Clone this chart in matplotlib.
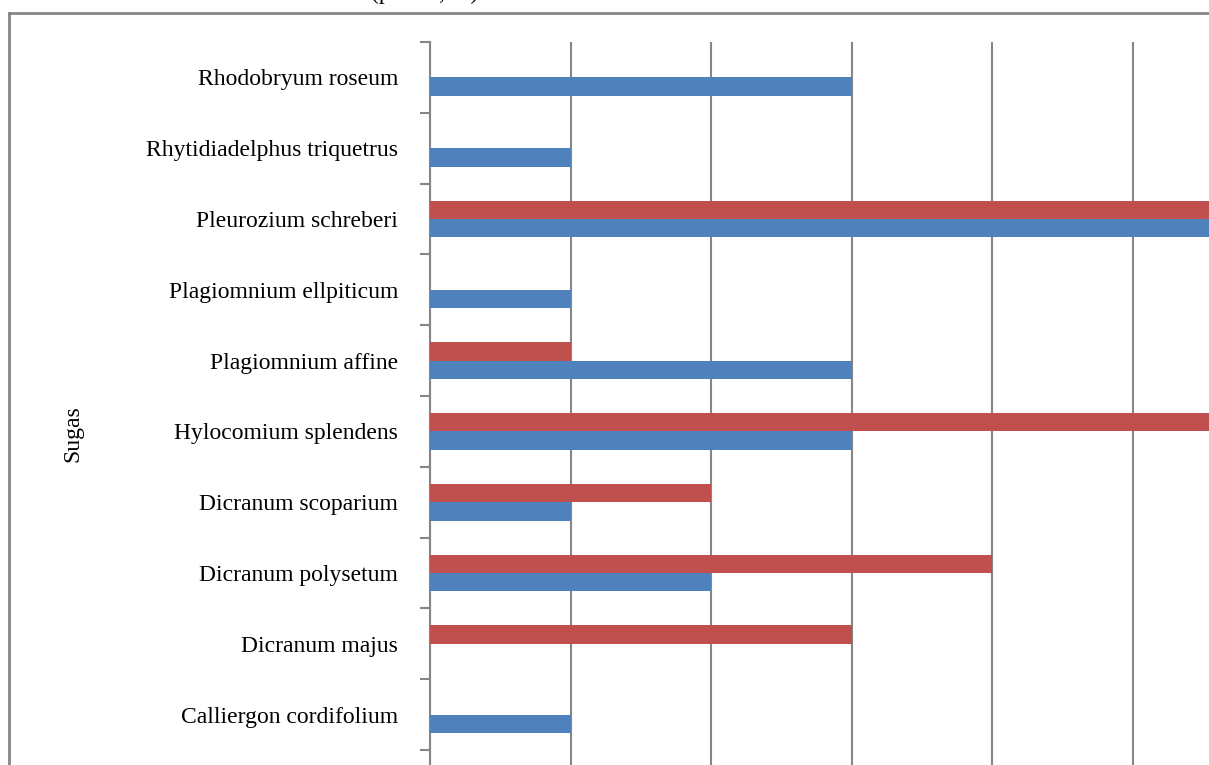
import numpy as np
import matplotlib
matplotlib.use('Agg')
import matplotlib.pyplot as plt
from matplotlib.lines import Line2D

species = ['Calliergon cordifolium', 'Dicranum majus', 'Dicranum polysetum',
           'Dicranum scoparium', 'Hylocomium splendens', 'Plagiomnium affine',
           'Plagiomnium ellpiticum', 'Pleurozium schreberi',
           'Rhytidiadelphus triquetrus', 'Rhodobryum roseum']
blue_vals = [1, 0, 2, 1, 3, 3, 1, 6, 1, 3]
red_vals = [0, 3, 4, 2, 6, 1, 0, 6, 0, 0]

W, H = 1209, 765
plt.rcParams['font.family'] = ['Liberation Serif', 'DejaVu Serif']
fig = plt.figure(figsize=(W / 100, H / 100), dpi=100)

# plot area: left edge 430px, top 42px, 11 slots of ~71px (last one cut off)
slot = 70.8
ax = fig.add_axes([430 / W, 1 - (42 + 11 * slot) / H, 1 - 430 / W, 11 * slot / H])

y = np.arange(len(species))
h = 0.26
ax.barh(y - h / 2, blue_vals, height=h, color='#4F81BD', zorder=3)
ax.barh(y + h / 2, red_vals, height=h, color='#C0504D', zorder=3)

ax.set_xlim(0, (W - 430) / 140.6)
ax.set_ylim(-1.5, len(species) - 0.5)

ax.set_xticks(np.arange(0, 6))
ax.tick_params(axis='x', length=0, labelbottom=False)
ax.grid(axis='x', color='#868686', linewidth=1.5, zorder=0)

ax.set_yticks(np.arange(-1.5, len(species), 1))
ax.set_yticklabels([])
ax.set_yticks(y, minor=True)
ax.set_yticklabels(species, minor=True, fontsize=17)
ax.tick_params(axis='y', which='major', length=7, width=1.5, color='#868686')
ax.tick_params(axis='y', which='minor', length=0, pad=23)

for s in ['top', 'right', 'bottom']:
    ax.spines[s].set_visible(False)
ax.spines['left'].set_color('#868686')
ax.spines['left'].set_linewidth(1.5)

fig.text(73 / W, 1 - 434 / H, 'Sugas', rotation=90, fontsize=17,
         ha='center', va='center')

# chart area border (cropped)
fig.add_artist(Line2D([9 / W, 9 / W], [0, 1 - 13 / H], color='#868686', linewidth=2))
fig.add_artist(Line2D([9 / W, 1], [1 - 13 / H, 1 - 13 / H], color='#868686', linewidth=2))

# title mostly cropped off the top
fig.text(425 / W, 1 + 1 / H, '(punkti, %)', fontsize=17, ha='center', va='baseline')

fig.savefig('out.png', dpi=100)
